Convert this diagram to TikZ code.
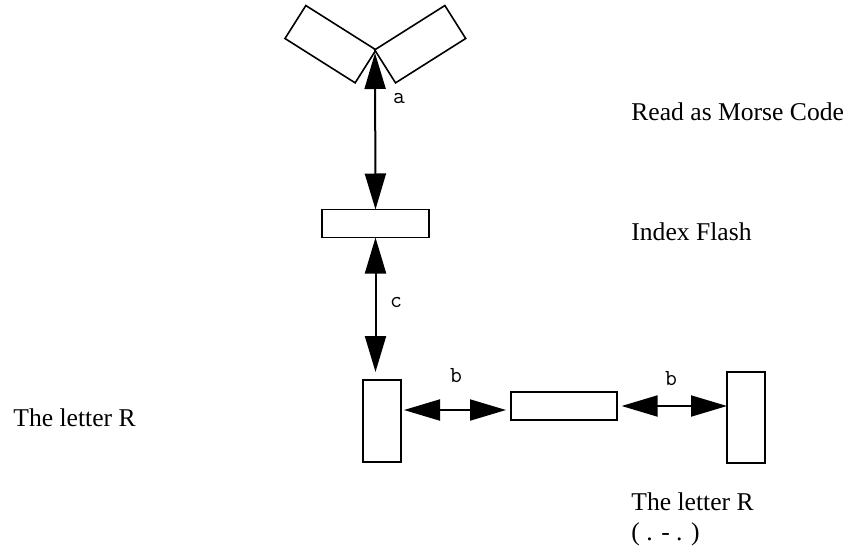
\documentclass[tikz,border=0pt]{standalone}
\usepackage{fontspec}
\setmainfont{Liberation Serif}
\usetikzlibrary{arrows.meta,positioning,calc}

\tikzset{
  blk/.style={draw, thick, fill=white, inner sep=0pt, outer sep=0pt},
  dbl/.style={{Triangle[length=18pt,width=10.5pt]}-{Triangle[length=18pt,width=10.5pt]}, line width=1pt},
  lbl/.style={font=\ttfamily\fontsize{11.5}{13}\selectfont},
  note/.style={anchor=base west, inner sep=0pt, font=\fontsize{12.8}{15}\selectfont}
}

\begin{document}
\begin{tikzpicture}[x=0.5pt,y=-0.5pt]
  \useasboundingbox (0,0) rectangle (848,552);

  % Open book (two tilted leaves)
  \node[blk, minimum width=41.5pt, minimum height=19.5pt, rotate=-32.3] (leafL) at (330.5,44.2) {};
  \node[blk, minimum width=41.5pt, minimum height=19.5pt, rotate=32.3] (leafR) at (420.2,44.2) {};
  \coordinate (apex) at (375,53);

  % Index Flash
  \node[blk, minimum width=53.5pt, minimum height=14pt] (flash) at (375.5,223.5) {};

  % Bottom row
  \node[blk, minimum width=19pt, minimum height=41pt] (lbox) at (382,421) {};
  \node[blk, minimum width=53pt, minimum height=14pt] (mid) at (564,406) {};
  \node[blk, minimum width=19pt, minimum height=45.5pt] (rbox) at (746,417.5) {};

  % Connectors
  \draw[dbl] (flash.north) -- (apex);
  \draw[dbl, shorten >=4pt] (flash.south) -- (flash.south |- lbox.north);
  \draw[dbl, shorten <=1.5pt, shorten >=2.5pt] (lbox.east |- 0,410) -- (mid.west |- 0,410);
  \draw[dbl, shorten <=2.3pt] (mid.east) -- (rbox.west |- mid.east);

  % Labels
  \node[lbl] at (399,99) {a};
  \node[lbl] at (396,303) {c};
  \node[lbl] at (456,376) {b};
  \node[lbl] at (671,379) {b};

  % Notes
  \node[note] (morse) at (631,120) {Read as Morse Code};
  \node[note] (index) at (631,240) {Index Flash};
  \node[note] (rleft) at (13,426) {The letter R};
  \node[note] (rright) at (631,510) {The letter R};
  \node[note] (code) at (631,540) {( . - . )};
\end{tikzpicture}
\end{document}
